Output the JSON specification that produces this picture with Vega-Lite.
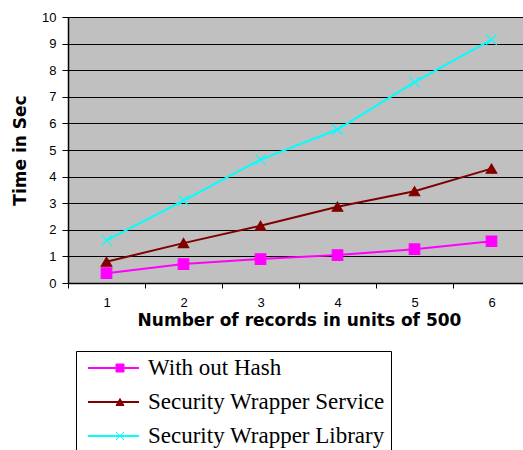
{
  "$schema": "https://vega.github.io/schema/vega-lite/v6.json",
  "autosize": "none",
  "padding": {"left": 68, "top": 17, "right": 0, "bottom": 167},
  "width": 455,
  "height": 266,
  "background": "white",
  "config": {
    "view": {"fill": "#C0C0C0", "stroke": null},
    "font": "Liberation Sans"
  },
  "data": {
    "values": [
      {"series": "With out Hash", "key": "A", "x": 1, "y": 0.37},
      {"series": "With out Hash", "key": "A", "x": 2, "y": 0.71},
      {"series": "With out Hash", "key": "A", "x": 3, "y": 0.9},
      {"series": "With out Hash", "key": "A", "x": 4, "y": 1.05},
      {"series": "With out Hash", "key": "A", "x": 5, "y": 1.27},
      {"series": "With out Hash", "key": "A", "x": 6, "y": 1.57},
      {"series": "Security Wrapper Service", "key": "B", "x": 1, "y": 0.8},
      {"series": "Security Wrapper Service", "key": "B", "x": 2, "y": 1.5},
      {"series": "Security Wrapper Service", "key": "B", "x": 3, "y": 2.15},
      {"series": "Security Wrapper Service", "key": "B", "x": 4, "y": 2.87},
      {"series": "Security Wrapper Service", "key": "B", "x": 5, "y": 3.45},
      {"series": "Security Wrapper Service", "key": "B", "x": 6, "y": 4.3},
      {"series": "Security Wrapper Library", "key": "C", "x": 1, "y": 1.6},
      {"series": "Security Wrapper Library", "key": "C", "x": 2, "y": 3.1},
      {"series": "Security Wrapper Library", "key": "C", "x": 3, "y": 4.64},
      {"series": "Security Wrapper Library", "key": "C", "x": 4, "y": 5.77},
      {"series": "Security Wrapper Library", "key": "C", "x": 5, "y": 7.55},
      {"series": "Security Wrapper Library", "key": "C", "x": 6, "y": 9.15}
    ]
  },
  "encoding": {
    "x": {
      "field": "x", "type": "ordinal", "bandPosition": 0.5,
      "scale": {"type": "band", "paddingInner": 0, "paddingOuter": 0, "range": [0, 462]},
      "axis": {
        "title": "Number of records in units of 500",
        "titleFont": "DejaVu Sans", "titleFontSize": 17, "titleFontWeight": "bold", "titleColor": "black",
        "titlePadding": 3,
        "labelAngle": 0, "labelFontSize": 13, "labelColor": "black", "labelPadding": 8,
        "tickBand": "extent", "tickColor": "black", "tickSize": 5,
        "domainColor": "black", "domainWidth": 1.5, "grid": false
      }
    },
    "y": {
      "field": "y", "type": "quantitative",
      "scale": {"domain": [0, 10], "nice": false},
      "axis": {
        "title": "Time in Sec",
        "titleFont": "DejaVu Sans", "titleFontSize": 17, "titleFontWeight": "bold", "titleColor": "black",
        "titlePadding": 12,
        "values": [0, 1, 2, 3, 4, 5, 6, 7, 8, 9, 10],
        "labelFontSize": 13, "labelColor": "black", "labelPadding": 6,
        "tickColor": "black", "tickSize": 6,
        "domainColor": "black", "domainWidth": 1.5,
        "grid": true, "gridColor": "black", "gridWidth": 1.2, "gridOpacity": 1
      }
    }
  },
  "layer": [
    {
      "mark": {"type": "line", "strokeWidth": 2},
      "encoding": {
        "color": {
          "field": "series", "type": "nominal",
          "scale": {
            "domain": ["With out Hash", "Security Wrapper Service", "Security Wrapper Library"],
            "range": ["#FF00FF", "#800000", "#00FFFF"]
          },
          "legend": {
            "title": null, "orient": "none", "legendX": 8, "legendY": 334,
            "direction": "vertical",
            "symbolType": "stroke", "symbolSize": 2601, "symbolStrokeWidth": 1.8, "symbolOffset": 5,
            "clipHeight": 22, "rowPadding": 11,
            "labelFont": "Liberation Serif", "labelFontSize": 23, "labelColor": "black", "labelOffset": 8,
            "labelLimit": 400,
            "padding": 6, "strokeColor": "black", "fillColor": "white"
          }
        }
      }
    },
    {
      "mark": {"type": "point", "filled": true, "strokeWidth": 1.2, "opacity": 1},
      "encoding": {
        "shape": {
          "field": "key", "type": "nominal",
          "scale": {"domain": ["A", "B", "C"], "range": ["square", "triangle-up", "M-1,-1L1,1M-1,1L1,-1"]},
          "legend": {
            "title": null, "orient": "none", "legendX": 8, "legendY": 334,
            "direction": "vertical",
            "symbolSize": 64, "symbolStrokeWidth": 1, "symbolOffset": 26.5,
            "clipHeight": 22, "rowPadding": 11,
            "labelExpr": "''", "labelFontSize": 23,
            "padding": 6
          }
        },
        "fill": {
          "field": "key", "type": "nominal",
          "scale": {"domain": ["A", "B", "C"], "range": ["#FF00FF", "#800000", "#00FFFF"]}
        },
        "stroke": {
          "field": "key", "type": "nominal",
          "scale": {"domain": ["A", "B", "C"], "range": ["#FF00FF", "#800000", "#00FFFF"]}
        },
        "size": {"value": 110}
      }
    }
  ]
}
